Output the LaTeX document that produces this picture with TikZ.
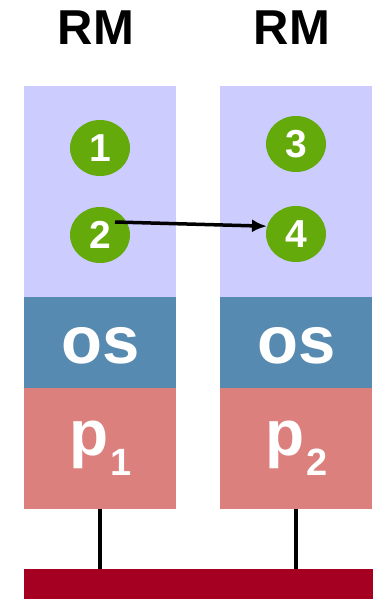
\documentclass[tikz,border=0pt]{standalone}
\usepackage{fontspec}
\setmainfont{Liberation Sans}
\usetikzlibrary{shapes.geometric,arrows.meta}
\definecolor{rmcol}{RGB}{204,204,255}
\definecolor{oscol}{RGB}{87,138,176}
\definecolor{pcol}{RGB}{220,128,126}
\definecolor{buscol}{RGB}{165,0,33}
\definecolor{dotcol}{RGB}{99,170,10}
\newcommand{\psub}[1]{\kern2pt\raisebox{-20pt}{\fontsize{38}{38}\selectfont #1}}
\tikzset{
  title/.style={font=\fontsize{49}{49}\selectfont\bfseries, inner sep=0pt},
  layer/.style={anchor=north west, inner sep=0pt, minimum width=152pt, text=white},
  oslayer/.style={layer, fill=oscol, minimum height=91pt, text height=43pt, font=\fontsize{67}{67}\selectfont\bfseries},
  plyr/.style={layer, fill=pcol, minimum height=121pt, font=\fontsize{64}{64}\selectfont\bfseries},
  dot/.style={ellipse, fill=dotcol, minimum width=60pt, minimum height=56pt, inner sep=0pt, text=white, font=\fontsize{39}{39}\selectfont\bfseries},
  wire/.style={line width=4pt},
  link/.style={line width=3.5pt, -{Latex[length=15pt,width=13pt]}}
}
\begin{document}
\begin{tikzpicture}[x=1pt, y=-1pt]
  \useasboundingbox (0,0) rectangle (374,604);
  \node[title] (rm1) at (96,28) {RM};
  \node[title] (rm2) at (292,28) {RM};
  % left stack
  \node[layer, fill=rmcol, minimum height=211pt] (mem1) at (24,86) {};
  \node[oslayer] (os1) at (24,297) {os};
  \node[plyr] (p1) at (24,388) {p\psub{1}};
  % right stack
  \node[layer, fill=rmcol, minimum height=211pt] (mem2) at (220,86) {};
  \node[oslayer] (os2) at (220,297) {os};
  \node[plyr] (p2) at (220,388) {p\psub{2}};
  % bus
  \node[anchor=north west, fill=buscol, minimum width=349pt, minimum height=30pt, inner sep=0pt] (bus) at (24,569) {};
  \draw[wire] (p1.south) -- (p1.south |- bus.north);
  \draw[wire] (p2.south) -- (p2.south |- bus.north);
  % replicas
  \node[dot] (n1) at (100,148) {1};
  \node[dot] (n2) at (100,235) {2};
  \node[dot] (n3) at (296,144) {3};
  \node[dot] (n4) at (296,234) {4};
  \draw[link] ([shift={(15,-13)}]n2.center) -- (n4.165);
\end{tikzpicture}
\end{document}
